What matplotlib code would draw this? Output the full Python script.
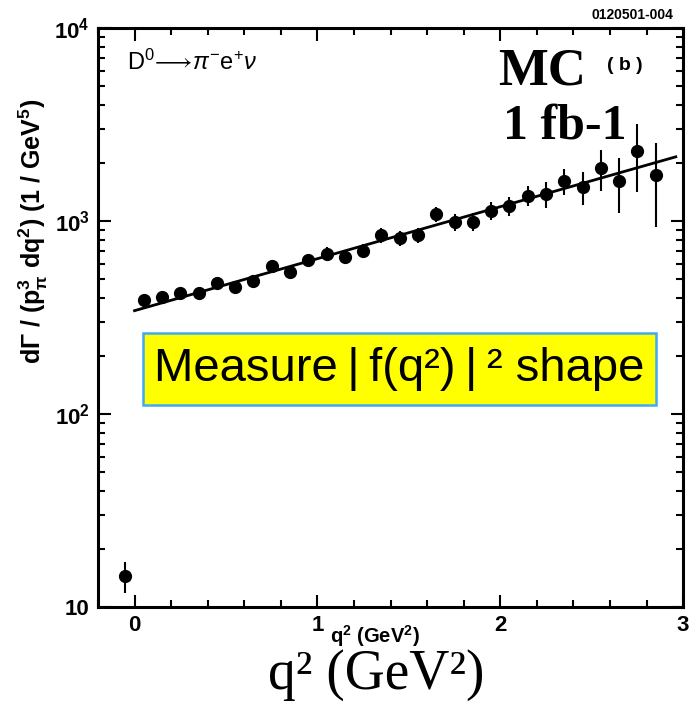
import matplotlib
matplotlib.use("Agg")
import matplotlib.pyplot as plt
from matplotlib.patches import Rectangle
from matplotlib.ticker import FixedLocator, FixedFormatter, MultipleLocator, LogLocator
import numpy as np

plt.rcParams["mathtext.fontset"] = "custom"
plt.rcParams["mathtext.rm"] = "Liberation Sans"
plt.rcParams["mathtext.it"] = "Liberation Sans:italic"
plt.rcParams["mathtext.bf"] = "Liberation Sans:bold"
plt.rcParams["font.family"] = ["Liberation Sans", "DejaVu Sans"]

# data: bin centres (GeV^2), rate, error
q2 = [0.05, 0.15, 0.25, 0.35, 0.45, 0.55, 0.65, 0.75, 0.85, 0.95,
      1.05, 1.15, 1.25, 1.35, 1.45, 1.55, 1.65, 1.75, 1.85, 1.95,
      2.05, 2.15, 2.25, 2.35, 2.45, 2.55, 2.65, 2.75, 2.85]
rate = [390, 405, 424, 421, 478, 455, 489, 585, 545, 628,
        675, 650, 700, 845, 816, 845, 1086, 988, 990, 1127,
        1196, 1349, 1380, 1612, 1500, 1883, 1610, 2306, 1730]
err = [22, 24, 26, 28, 32, 32, 35, 42, 42, 48,
       55, 55, 60, 72, 72, 80, 100, 100, 105, 120,
       135, 160, 210, 250, 290, 460, 505, 890, 800]

# underflow bin
q2_low = [-0.05]
rate_low = [14.5]
err_low = [2.7]

# fitted line (straight on log scale)
fit_q2 = [0.0, 2.96]
fit_rate = [343, 2150]

ytick_vals = [10, 100, 1000, 10000]
ytick_labels = ["10", r"$\mathbf{10^{2}}$", r"$\mathbf{10^{3}}$", r"$\mathbf{10^{4}}$"]

fig = plt.figure(figsize=(6.9, 7.12), dpi=100)
ax = fig.add_axes([0.142, 0.1475, 0.848, 0.8132])

ax.errorbar(q2, rate, yerr=err, fmt="o", color="black", ms=8.5,
            elinewidth=1.5, capsize=0)
ax.errorbar(q2_low, rate_low, yerr=err_low, fmt="o", color="black", ms=8.5,
            elinewidth=1.5, capsize=0)
ax.plot(fit_q2, fit_rate, color="black", lw=2.0)

ax.set_yscale("log")
ax.set_xlim(-0.2, 3.0)
ax.set_ylim(10, 1e4)

ax.xaxis.set_major_locator(FixedLocator([0, 1, 2, 3]))
ax.xaxis.set_minor_locator(MultipleLocator(0.2))
ax.yaxis.set_major_locator(FixedLocator(ytick_vals))
ax.yaxis.set_major_formatter(FixedFormatter(ytick_labels))
ax.yaxis.set_minor_locator(LogLocator(base=10, subs=np.arange(2, 10)))
ax.yaxis.set_minor_formatter(FixedFormatter([]))

ax.tick_params(which="both", direction="in", top=True, right=True, width=1.5)
ax.tick_params(which="major", length=9)
ax.tick_params(which="minor", length=5)
ax.tick_params(axis="both", labelsize=16, pad=6)
for lab in ax.get_xticklabels() + ax.get_yticklabels():
    lab.set_fontweight("bold")
for sp in ax.spines.values():
    sp.set_linewidth(2.2)

ax.set_ylabel(r"$\mathbf{d\Gamma\ /\ (p^{3}_{\pi}\ dq^{2})\ (1\ /\ GeV^{5})}$",
              fontsize=18)
ax.yaxis.set_label_coords(-0.082, 0.648)
ax.set_xlabel(r"$\mathbf{q^{2}\ (GeV^{2})}$", fontsize=14.5)
ax.xaxis.set_label_coords(0.474, -0.028)

# yellow annotation box
ax.add_patch(Rectangle((0.077, 0.349), 0.877, 0.124, transform=ax.transAxes,
                       facecolor="#ffff00", edgecolor="#3fa9f5", lw=1.8,
                       zorder=4))
ax.text(0.515, 0.411, "Measure\u2009|\u2009f(q²)\u2009|\u2009² shape",
        transform=ax.transAxes, ha="center", va="center", fontsize=34,
        zorder=5)

ax.text(0.05, 0.94, r"$\mathrm{D}^{0}\!\longrightarrow\!\pi^{-}\mathrm{e}^{+}\nu$",
        transform=ax.transAxes, fontsize=17, ha="left", va="center")

fig.text(0.785, 0.899, "MC", family="Liberation Serif", fontweight="bold",
         fontsize=38, ha="center", va="center")
fig.text(0.905, 0.908, "( b )", fontweight="bold", fontsize=14,
         ha="center", va="center")
fig.text(0.819, 0.822, "1 fb-1", family="Liberation Serif", fontweight="bold",
         fontsize=36, ha="center", va="center")
fig.text(0.976, 0.979, "0120501-004", fontweight="bold", fontsize=10,
         ha="right", va="center")

fig.text(0.545, 0.052, "q² (GeV²)", family="Liberation Serif", fontsize=40,
         ha="center", va="center")

fig.savefig("out.png", dpi=100)
